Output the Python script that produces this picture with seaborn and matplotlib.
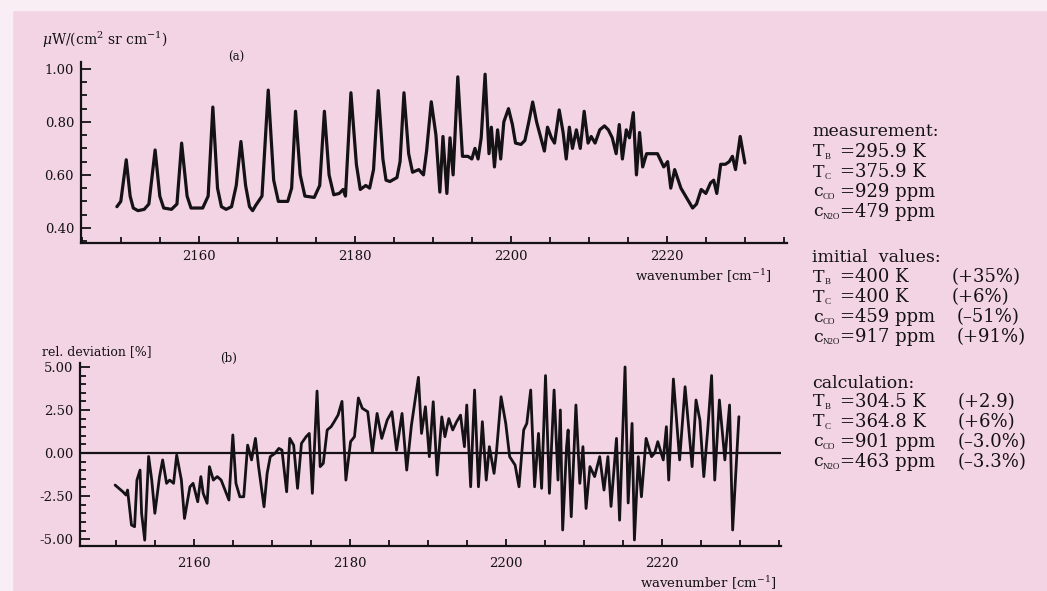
import matplotlib
matplotlib.use('Agg')
import matplotlib.pyplot as plt
import seaborn as sns
from matplotlib.patches import Rectangle
from matplotlib.ticker import MultipleLocator

# (a) measured spectrum
wn_a = [2149.5, 2150.0, 2150.7, 2151.2, 2151.6, 2152.2, 2153.0, 2153.6, 2154.4, 2155.0,
        2155.5, 2156.5, 2157.2, 2157.8, 2158.5, 2159.0, 2160.5, 2161.2, 2161.8, 2162.4,
        2162.9, 2163.5, 2164.2, 2164.8, 2165.4, 2166.0, 2166.5, 2166.9, 2167.3, 2168.1,
        2168.9, 2169.6, 2170.2, 2171.4, 2171.9, 2172.4, 2173.0, 2173.6, 2174.8, 2175.5,
        2176.1, 2176.7, 2177.3, 2178.0, 2178.5, 2178.8, 2179.5, 2180.2, 2180.7, 2181.4,
        2181.9, 2182.4, 2183.0, 2183.6, 2184.0, 2184.5, 2185.4, 2185.8, 2186.3, 2186.9,
        2187.4, 2188.2, 2188.8, 2189.2, 2189.8, 2190.4, 2190.9, 2191.3, 2191.8, 2192.2,
        2192.6, 2193.2, 2193.8, 2194.5, 2195.0, 2195.4, 2195.8, 2196.2, 2196.7, 2197.2,
        2197.5, 2197.9, 2198.3, 2198.7, 2199.1, 2199.7, 2200.2, 2200.6, 2201.3, 2201.8,
        2202.3, 2202.8, 2203.3, 2203.8, 2204.3, 2204.7, 2205.2, 2205.6, 2206.2, 2206.7,
        2207.1, 2207.5, 2207.9, 2208.4, 2208.9, 2209.4, 2209.9, 2210.3, 2210.8, 2211.4,
        2212.0, 2212.5, 2213.0, 2213.5, 2213.9, 2214.3, 2214.8, 2215.2, 2215.7, 2216.1,
        2216.5, 2216.9, 2217.4, 2218.2, 2218.8, 2219.6, 2220.1, 2220.5, 2221.0, 2221.8,
        2222.4, 2222.8, 2223.3, 2223.8, 2224.4, 2225.0, 2225.6, 2226.0, 2226.4, 2226.9,
        2227.5, 2228.0, 2228.4, 2228.8, 2229.4, 2230.0]
rad_a = [0.48, 0.50, 0.657, 0.52, 0.475, 0.465, 0.47, 0.49, 0.694, 0.52,
         0.475, 0.47, 0.49, 0.72, 0.52, 0.475, 0.475, 0.52, 0.856, 0.55,
         0.48, 0.47, 0.48, 0.56, 0.726, 0.56, 0.48, 0.465, 0.485, 0.52,
         0.92, 0.58, 0.50, 0.50, 0.55, 0.84, 0.60, 0.52, 0.515, 0.56,
         0.84, 0.60, 0.525, 0.53, 0.545, 0.52, 0.91, 0.64, 0.545, 0.56,
         0.55, 0.62, 0.918, 0.66, 0.58, 0.575, 0.59, 0.65, 0.91, 0.68,
         0.61, 0.62, 0.60, 0.69, 0.876, 0.75, 0.535, 0.745, 0.53, 0.74,
         0.60, 0.97, 0.67, 0.67, 0.66, 0.70, 0.66, 0.74, 0.98, 0.68,
         0.78, 0.63, 0.77, 0.66, 0.80, 0.85, 0.79, 0.72, 0.715, 0.73,
         0.80, 0.875, 0.80, 0.745, 0.69, 0.78, 0.74, 0.72, 0.845, 0.76,
         0.66, 0.78, 0.70, 0.77, 0.70, 0.84, 0.72, 0.745, 0.72, 0.77,
         0.785, 0.77, 0.74, 0.68, 0.79, 0.66, 0.77, 0.74, 0.835, 0.60,
         0.76, 0.63, 0.68, 0.68, 0.68, 0.63, 0.65, 0.55, 0.62, 0.55,
         0.52, 0.50, 0.475, 0.49, 0.545, 0.53, 0.57, 0.58, 0.53, 0.64,
         0.64, 0.65, 0.67, 0.62, 0.745, 0.645]

# (b) relative deviation
wn_b = [2149.9, 2150.9, 2151.3, 2151.5, 2152.0, 2152.4, 2152.7, 2153.1, 2153.3, 2153.7,
        2154.2, 2154.6, 2155.0, 2155.6, 2156.0, 2156.5, 2156.9, 2157.4, 2157.8, 2158.4,
        2158.8, 2159.5, 2159.9, 2160.5, 2160.9, 2161.2, 2161.7, 2162.0, 2162.5, 2163.0,
        2163.5, 2164.0, 2164.5, 2165.0, 2165.4, 2165.9, 2166.4, 2166.9, 2167.4, 2167.9,
        2168.3, 2169.0, 2169.4, 2169.8, 2170.4, 2170.9, 2171.3, 2171.9, 2172.3, 2172.8,
        2173.3, 2173.8, 2174.4, 2174.8, 2175.2, 2175.8, 2176.2, 2176.6, 2177.1, 2177.6,
        2178.0, 2178.5, 2179.0, 2179.5, 2180.1, 2180.6, 2181.1, 2181.6, 2182.3, 2182.9,
        2183.5, 2184.1, 2184.8, 2185.4, 2186.0, 2186.7, 2187.3, 2187.9, 2188.8, 2189.2,
        2189.7, 2190.2, 2190.7, 2191.2, 2191.8, 2192.2, 2192.7, 2193.2, 2193.7, 2194.2,
        2194.7, 2195.0, 2195.5, 2196.0, 2196.5, 2197.0, 2197.5, 2197.9, 2198.5, 2198.8,
        2199.4, 2200.0, 2200.5, 2201.2, 2201.7, 2202.3, 2202.7, 2203.2, 2203.7, 2204.2,
        2204.6, 2205.1, 2205.6, 2206.2, 2206.7, 2207.0, 2207.3, 2207.8, 2208.0, 2208.4,
        2209.0, 2209.5, 2209.9, 2210.3, 2210.8, 2211.4, 2212.05, 2212.6, 2213.1, 2213.5,
        2214.2, 2214.6, 2215.3, 2215.7, 2216.2, 2216.5, 2217.0, 2217.4, 2218.0, 2218.7,
        2219.1, 2219.5, 2220.2, 2220.6, 2220.9, 2221.5, 2222.3, 2223.0, 2223.9, 2224.4,
        2224.9, 2225.4, 2225.9, 2226.4, 2226.8, 2227.4, 2228.1, 2228.7, 2229.1, 2229.9]
dev_b = [-1.86, -2.25, -2.44, -2.15, -4.18, -4.28, -1.57, -0.99, -3.5, -5.06,
         -0.2, -1.57, -3.5, -1.37, -0.4, -1.76, -1.57, -1.76, -0.12, -1.57,
         -3.8, -1.96, -1.76, -2.83, -1.37, -2.34, -2.92, -0.79, -1.57, -1.37,
         -1.57, -2.15, -2.73, 1.05, -1.76, -2.54, -2.54, 0.46, -0.4, 0.85,
         -0.79, -3.12, -1.18, -0.21, -0.02, 0.27, 0.17, -2.25, 0.85, 0.46,
         -2.05, 0.56, 0.95, 1.14, -2.34, 3.6, -0.79, -0.6, 1.34, 1.53,
         1.82, 2.21, 3.0, -1.57, 0.66, 0.95, 3.2, 2.6, 2.4, 0.08,
         2.3, 0.85, 1.92, 2.4, 0.17, 2.3, -0.99, 1.6, 4.4, 1.14,
         2.69, -0.21, 2.98, -1.28, 2.1, 0.95, 2.0, 1.34, 1.82, 2.2,
         0.37, 2.79, -1.96, 3.66, -1.96, 1.82, -1.57, 0.37, -1.18, 0.0,
         3.27, 1.72, -0.21, -0.70, -1.96, 1.34, 1.72, 3.66, -1.96, 1.14,
         -2.05, 4.5, -2.34, 3.66, -1.57, 2.5, -4.47, 0.37, 1.34, -3.7,
         2.79, -1.76, 0.37, -3.22, -0.79, -1.37, -0.21, -2.15, -0.21, -3.1,
         0.85, -3.9, 5.0, -2.9, 1.72, -5.05, -0.21, -2.54, 0.85, -0.21,
         0.0, 0.66, -0.4, 1.53, -1.57, 4.3, -0.4, 3.85, -0.79, 3.08,
         1.92, -1.37, 1.34, 4.5, -1.57, 3.08, -0.4, 2.79, -4.47, 2.11]

x_major = [2160, 2180, 2200, 2220]
yticks_a = [0.40, 0.60, 0.80, 1.00]
yticks_b = [-5.00, -2.50, 0.00, 2.50, 5.00]

# parameter block on the right
par_base = ['T', 'T', 'c', 'c']
par_sub = ['B', 'C', 'CO', 'N2O']
meas_vals = ['=295.9 K', '=375.9 K', '=929 ppm', '=479 ppm']
init_vals = ['=400 K', '=400 K', '=459 ppm', '=917 ppm']
init_pct = ['(+35%)', '(+6%)', '(\u201351%)', '(+91%)']
calc_vals = ['=304.5 K', '=364.8 K', '=901 ppm', '=463 ppm']
calc_pct = ['(+2.9)', '(+6%)', '(\u20133.0%)', '(\u20133.3%)']

bg = '#f3d4e4'
ink = '#141214'

sns.set_theme(style='ticks')
plt.rcParams['font.family'] = ['DejaVu Serif']
plt.rcParams['mathtext.fontset'] = 'dejavuserif'
plt.rcParams['axes.unicode_minus'] = False

W, H = 1047, 591
fig = plt.figure(figsize=(W / 100, H / 100), dpi=100, facecolor=bg)
fig.patches.append(Rectangle((0, 1 - 10 / H), 1, 10 / H, transform=fig.transFigure,
                             color='#f9eef4', zorder=0))
fig.patches.append(Rectangle((0, 0), 12 / W, 1, transform=fig.transFigure,
                             color='#f9eef4', zorder=0))


def px_axes(left, top, right, bottom):
    return fig.add_axes([left / W, 1 - bottom / H, (right - left) / W, (bottom - top) / H])


def style_axes(ax, yminor, xpad):
    ax.set_facecolor('none')
    sns.despine(ax=ax)
    for s in ['left', 'bottom']:
        ax.spines[s].set_linewidth(1.6)
        ax.spines[s].set_color(ink)
    ax.set_xticks(x_major)
    ax.xaxis.set_minor_locator(MultipleLocator(5))
    ax.yaxis.set_minor_locator(MultipleLocator(yminor))
    ax.tick_params(axis='both', which='both', direction='in', color=ink, width=1.3)
    ax.tick_params(axis='x', which='major', length=5, pad=xpad, labelsize=9.5, labelcolor=ink)
    ax.tick_params(axis='x', which='minor', length=4)
    ax.tick_params(axis='y', which='major', length=7, pad=5, labelsize=9.5, labelcolor=ink)
    ax.tick_params(axis='y', which='minor', length=4)
    ax.set_xlabel('')
    ax.set_ylabel('')


# panel (a)
ax1 = px_axes(81, 62, 787, 243)
sns.lineplot(x=wn_a, y=rad_a, ax=ax1, color=ink, linewidth=2.3)
ax1.set_xlim(2144.9, 2235.4)
ax1.set_ylim(0.343, 1.026)
style_axes(ax1, 0.05, 5)
ax1.set_yticks(yticks_a)
ax1.set_yticklabels(['%.2f' % v for v in yticks_a])

# panel (b)
ax2 = px_axes(80, 363, 781, 546)
sns.lineplot(x=wn_b, y=dev_b, ax=ax2, color=ink, linewidth=2.0)
ax2.axhline(0, color=ink, linewidth=1.6)
ax2.set_xlim(2145.4, 2235.3)
ax2.set_ylim(-5.40, 5.23)
style_axes(ax2, 0.5, 8)
ax2.set_yticks(yticks_b)
ax2.set_yticklabels(['%.2f' % v for v in yticks_b])


def ftext(x, y, s, **kw):
    fig.text(x / W, 1 - y / H, s, color=ink, **kw)


# axis captions
ftext(42, 40, r'$\mu$W/(cm$^2$ sr cm$^{-1}$)', fontsize=10, va='center')
ftext(236, 57, '(a)', fontsize=8.5, va='center', ha='center')
ftext(42, 352, 'rel. deviation [%]', fontsize=9, va='center')
ftext(229, 358, '(b)', fontsize=8.5, va='center', ha='center')
ftext(703, 276, r'wavenumber [cm$^{-1}$]', fontsize=9.5, va='center', ha='center')
ftext(708, 583, r'wavenumber [cm$^{-1}$]', fontsize=9.5, va='center', ha='center')

# parameter block
fs = 12.5
fv = 13


def par_label(i, y):
    ftext(813, y, par_base[i], fontsize=fs, va='center')
    sx = 825 if par_base[i] == 'T' else 823
    ftext(sx, y + 5, par_sub[i], fontsize=6.5, va='center', family='Liberation Serif')


ftext(812, 132, 'measurement:', fontsize=fs, va='center')
for i in range(4):
    y = 152 + 20 * i
    par_label(i, y)
    ftext(840, y, meas_vals[i], fontsize=fv, va='center')

ftext(812, 257, 'imitial  values:', fontsize=fs, va='center')
pct_x = [952, 952, 957, 957]
for i in range(4):
    y = 277 + 20 * i
    par_label(i, y)
    ftext(840, y, init_vals[i], fontsize=fv, va='center')
    ftext(pct_x[i], y, init_pct[i], fontsize=fv, va='center')

ftext(812, 383, 'calculation:', fontsize=fs, va='center')
for i in range(4):
    y = 402 + 20 * i
    par_label(i, y)
    ftext(840, y, calc_vals[i], fontsize=fv, va='center')
    ftext(958, y, calc_pct[i], fontsize=fv, va='center')

fig.savefig('out.png', dpi=100, facecolor=bg)
